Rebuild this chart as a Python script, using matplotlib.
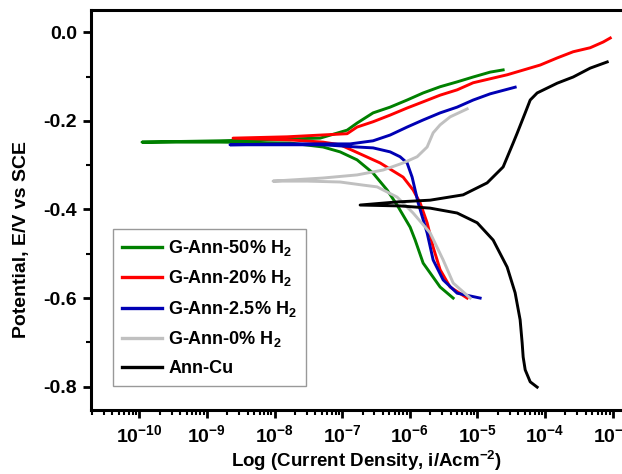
import matplotlib
matplotlib.use('Agg')
import matplotlib.pyplot as plt
import numpy as np

plt.rcParams['font.family'] = ['Liberation Sans', 'DejaVu Sans']
plt.rcParams['font.weight'] = 'bold'
plt.rcParams['mathtext.fontset'] = 'custom'
plt.rcParams['mathtext.rm'] = 'Liberation Sans:bold'
plt.rcParams['mathtext.bf'] = 'Liberation Sans:bold'
plt.rcParams['mathtext.it'] = 'Liberation Sans:bold'
plt.rcParams['mathtext.default'] = 'bf'
plt.rcParams['axes.unicode_minus'] = False

# each curve: log10(i) and E, from the cathodic end through Ecorr to the anodic end
g50_logi = [-5.359, -5.552, -5.803, -5.921, -5.995, -6.188, -6.336, -6.543, -6.780, -7.031,
            -7.283, -7.771, -8.806, -9.960, -8.806, -7.327, -6.927, -6.780, -6.543, -6.291,
            -6.040, -5.803, -5.552, -5.300, -5.063, -4.812, -4.620]
g50_E = [-0.600, -0.575, -0.521, -0.469, -0.440, -0.390, -0.356, -0.318, -0.288, -0.270,
         -0.259, -0.250, -0.248, -0.248, -0.245, -0.239, -0.221, -0.205, -0.182, -0.169,
         -0.153, -0.137, -0.123, -0.112, -0.101, -0.090, -0.085]

g20_logi = [-5.152, -5.404, -5.552, -5.655, -5.744, -5.848, -5.951, -6.099, -6.439, -7.031,
            -7.283, -7.771, -8.614, -7.816, -6.927, -6.780, -6.543, -6.291, -6.040, -5.803,
            -5.552, -5.300, -5.063, -4.560, -4.072, -3.821, -3.584, -3.333, -3.140, -3.036]
g20_E = [-0.600, -0.575, -0.536, -0.485, -0.430, -0.385, -0.356, -0.327, -0.295, -0.254,
         -0.248, -0.243, -0.239, -0.236, -0.229, -0.214, -0.202, -0.187, -0.171, -0.157,
         -0.142, -0.130, -0.114, -0.096, -0.074, -0.058, -0.044, -0.035, -0.022, -0.013]

g25_logi = [-4.960, -5.300, -5.507, -5.655, -5.744, -5.877, -5.966, -6.040, -6.144, -6.291,
            -6.543, -6.780, -7.283, -7.771, -8.659, -7.771, -6.883, -6.543, -6.291, -6.040,
            -5.803, -5.552, -5.300, -5.063, -4.812, -4.442]
g25_E = [-0.600, -0.589, -0.559, -0.514, -0.453, -0.385, -0.327, -0.295, -0.281, -0.270,
         -0.261, -0.259, -0.254, -0.254, -0.254, -0.252, -0.252, -0.245, -0.232, -0.214,
         -0.198, -0.182, -0.169, -0.153, -0.139, -0.124]

g0_logi = [-5.107, -5.359, -5.507, -5.699, -5.951, -6.188, -6.484, -6.691, -7.031, -7.519,
           -8.022, -7.283, -6.780, -6.395, -6.099, -5.892, -5.744, -5.655, -5.552, -5.404,
           -5.152]
g0_E = [-0.600, -0.566, -0.514, -0.453, -0.408, -0.372, -0.349, -0.345, -0.338, -0.336,
        -0.336, -0.329, -0.322, -0.311, -0.295, -0.281, -0.259, -0.227, -0.209, -0.191,
        -0.173]

cu_logi = [-4.117, -4.220, -4.294, -4.324, -4.339, -4.369, -4.443, -4.561, -4.768, -5.004,
           -5.300, -5.699, -6.144, -6.735, -6.188, -5.699, -5.212, -4.857, -4.620, -4.472,
           -4.413, -4.294, -4.220, -4.117, -3.821, -3.584, -3.333, -3.081]
cu_E = [-0.801, -0.789, -0.762, -0.733, -0.701, -0.649, -0.588, -0.530, -0.469, -0.430,
        -0.408, -0.397, -0.392, -0.390, -0.383, -0.379, -0.367, -0.340, -0.304, -0.250,
        -0.228, -0.182, -0.153, -0.137, -0.115, -0.101, -0.081, -0.067]

labels = ['G-Ann-50% H$_2$', 'G-Ann-20% H$_2$', 'G-Ann-2.5% H$_2$', 'G-Ann-0% H$_2$', 'Ann-Cu']
colors = ['#008000', '#ff0000', '#0000b4', '#c0c0c0', '#000000']
series = [(g50_logi, g50_E), (g20_logi, g20_E), (g25_logi, g25_E), (g0_logi, g0_E), (cu_logi, cu_E)]

fig = plt.figure(figsize=(6.22, 4.74), dpi=100)
ax = fig.add_axes([0.1463, 0.135, 0.884, 0.844])

for (lx, ey), lab, c in zip(series, labels, colors):
    ax.plot(10 ** np.array(lx), ey, color=c, lw=2.1, label=lab)

ax.set_xscale('log')
ax.set_xlim(10 ** -10.714, 10 ** -2.584)
ax.set_ylim(-0.8526, 0.0503)
ax.set_yticks([0.0, -0.2, -0.4, -0.6, -0.8])
ax.set_yticklabels(['0.0', '-0.2', '-0.4', '-0.6', '-0.8'])
ax.set_yticks([-0.1, -0.3, -0.5, -0.7], minor=True)
ax.xaxis.set_major_locator(matplotlib.ticker.LogLocator(base=10, numticks=20))
ax.xaxis.set_minor_locator(matplotlib.ticker.LogLocator(base=10, subs=np.arange(2, 10), numticks=20))
ax.xaxis.set_minor_formatter(matplotlib.ticker.NullFormatter())

for s in ['left', 'bottom', 'top']:
    ax.spines[s].set_linewidth(2.2)
ax.spines['right'].set_visible(False)
ax.tick_params(which='major', direction='out', length=6, width=2, labelsize=14, pad=4)
ax.tick_params(which='minor', direction='out', length=3.5, width=1.5)
ax.tick_params(axis='y', pad=4)

ax.set_ylabel('Potential, E/V vs SCE', fontsize=14, fontweight='bold')
ax.yaxis.set_label_coords(-0.111, 0.425)
ax.set_xlabel('Log (Current Density, i/Acm$^{-2}$)', fontsize=13.5, fontweight='bold')
ax.xaxis.set_label_coords(0.5, -0.096)

leg = ax.legend(loc='upper left', bbox_to_anchor=(0.040, 0.4525), fontsize=13,
                frameon=True, fancybox=False, edgecolor='#808080', handlelength=2.2,
                labelspacing=0.58, borderpad=0.5, handletextpad=0.35, borderaxespad=0)
leg.get_frame().set_linewidth(1.0)
for line in leg.get_lines():
    line.set_linewidth(2.4)

fig.savefig('out.png', dpi=100)
